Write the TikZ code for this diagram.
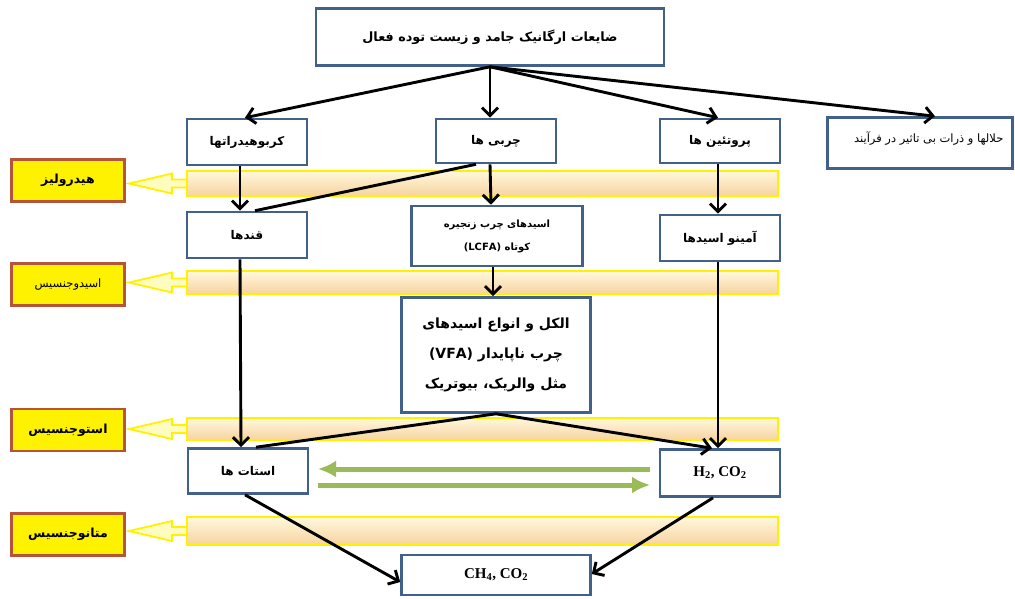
\documentclass[tikz,border=0pt]{standalone}
\usepackage{fontspec}
\usetikzlibrary{arrows.meta}
\newfontfamily\arfont[Script=Arabic]{DejaVu Sans}
\newfontfamily\serfont{Liberation Serif}
\TeXXeTstate=1
\definecolor{boxblue}{HTML}{41608A}
\definecolor{lblred}{HTML}{B5543A}
\definecolor{arrowgreen}{HTML}{9BBB59}
\definecolor{bandtop}{HTML}{FFF8DC}
\definecolor{bandbot}{HTML}{F7D3A0}
\definecolor{bandedge}{HTML}{FFF200}
\newcommand{\fa}[1]{\beginR #1\endR}
\begin{document}
\begin{tikzpicture}[x=1pt,y=-1pt,
  box/.style={draw=boxblue,line width=2.6pt,fill=white,inner sep=2pt,align=center,
    font=\arfont\bfseries\fontsize{12}{14}\selectfont},
  lbl/.style={draw=lblred,line width=2.6pt,fill=yellow,minimum width=113pt,minimum height=42pt,
    font=\arfont\bfseries\fontsize{12.5}{14}\selectfont},
  band/.style={draw=bandedge,line width=2.8pt,top color=bandtop,bottom color=bandbot},
  bandarrow/.style={draw=bandedge,line width=1.8pt,fill=yellow!25,line join=miter},
  conn/.style={draw=black,line width=2.9pt,-{Straight Barb[length=8pt,width=16pt,line width=2.9pt]}},
  plain/.style={draw=black,line width=2.9pt},
  garrow/.style={draw=arrowgreen,line width=5pt,-{Latex[length=18pt,width=17pt]}}
]
\useasboundingbox (0,0) rectangle (1015,598);
\fill[white] (0,0) rectangle (1015,598);

% bands
\path[band] (187,171) rectangle (778,196);
\path[band] (187,271) rectangle (778,294);
\path[band] (187,418) rectangle (778,440);
\path[band] (187,517) rectangle (778,545);

% band arrows
\foreach \yc in {183.5,282.5,429,531}{
  \path[bandarrow] (129,\yc) -- (172,\yc-10) -- (172,\yc-4) -- (187,\yc-4) -- (187,\yc+4) -- (172,\yc+4) -- (172,\yc+10) -- cycle;
}

% stage labels
\node[lbl] (hyd) at (68,180.5) {\fa{هیدرولیز}};
\node[lbl,font=\arfont\fontsize{11.5}{13}\selectfont] (acido) at (68,284.5) {\fa{اسیدوجنسیس}};
\node[lbl] (aceto) at (68,430) {\fa{استوجنسیس}};
\node[lbl] (metha) at (68,534.5) {\fa{متانوجنسیس}};

% boxes
\node[box,minimum width=348pt,minimum height=57pt,font=\arfont\bfseries\fontsize{12.8}{15}\selectfont] (top) at (490,37) {\fa{ضایعات ارگانیک جامد و زیست توده فعال}};
\node[box,minimum width=120pt,minimum height=46pt] (carb) at (247,142) {\fa{کربوهیدراتها}};
\node[box,minimum width=120pt,minimum height=44pt] (fat) at (496,141) {\fa{چربی ها}};
\node[box,minimum width=120pt,minimum height=44pt] (prot) at (720,141) {\fa{پروتئین ها}};
\node[box,minimum width=185pt,minimum height=51pt] (inert) at (920,143) {};
\node[font=\arfont\fontsize{11.5}{13}\selectfont,anchor=east] (inerttxt) at (1007,138) {\fa{حلالها و ذرات بی تاثیر در فرآیند}};

\node[box,minimum width=120pt,minimum height=46pt] (sugar) at (247,235) {\fa{قندها}};
\node[box,minimum width=171pt,minimum height=60pt,font=\arfont\bfseries\fontsize{10}{23}\selectfont] (lcfa) at (497,236)
  {\fa{اسیدهای چرب زنجیره}\\ \fa{کوتاه \beginL(LCFA)\endL}};
\node[box,minimum width=120pt,minimum height=46pt] (amino) at (720,238) {\fa{آمینو اسیدها}};

\node[box,minimum width=189pt,minimum height=115pt,font=\arfont\bfseries\fontsize{14}{30}\selectfont] (vfa) at (496,355)
  {\fa{الکل و انواع اسیدهای}\\ \fa{چرب ناپایدار \beginL(VFA)\endL}\\ \fa{مثل والریک، بیوتریک}};

\node[box,minimum width=120pt,minimum height=45pt] (acetate) at (248,471) {\fa{استات ها}};
\node[box,minimum width=120pt,minimum height=47pt,font=\serfont\bfseries\fontsize{15}{17}\selectfont] (h2) at (720,473) {H\textsubscript{2}, CO\textsubscript{2}};
\node[box,minimum width=189pt,minimum height=40pt,font=\serfont\bfseries\fontsize{15}{17}\selectfont] (ch4) at (496,575) {CH\textsubscript{4}, CO\textsubscript{2}};

% connectors
\draw[conn] (top.south) -- ([xshift=-2pt]carb.north);
\draw[conn] (top.south) -- ([xshift=-6pt]fat.north);
\draw[conn] (top.south) -- ([xshift=-2pt]prot.north);
\draw[conn] (top.south) -- ([xshift=15pt]inert.north);

\draw[conn] ([xshift=-7pt]carb.south) -- ([xshift=-7pt]sugar.north);
\draw[plain] ([xshift=-20pt]fat.south) -- ([xshift=8pt]sugar.north);
\draw[conn] ([xshift=-6pt]fat.south) -- ([xshift=-6pt]lcfa.north);
\draw[conn] ([xshift=-2pt]prot.south) -- ([xshift=-2pt]amino.north);

\draw[conn] ([xshift=-4pt]lcfa.south) -- ([xshift=-3pt]vfa.north);
\draw[conn] ([xshift=-7pt]sugar.south) -- ([xshift=-7pt]acetate.north);
\draw[conn] ([xshift=-2pt]amino.south) -- ([xshift=-2pt]h2.north);

\draw[plain] (vfa.south) -- ([xshift=8pt]acetate.north);
\draw[conn] (vfa.south) -- ([xshift=-8pt]h2.north);

\draw[conn] ([xshift=-3pt]acetate.south) -- ([yshift=-7pt]ch4.west);
\draw[conn] ([xshift=-7pt]h2.south) -- ([yshift=1pt]ch4.east);

% green exchange arrows
\coordinate (gL1) at (318,469);
\coordinate (gR1) at (650,469);
\coordinate (gL2) at (318,485);
\coordinate (gR2) at (650,485);
\draw[garrow] (gR1) -- (gL1);
\draw[garrow] (gL2) -- (gR2);
\end{tikzpicture}
\end{document}
